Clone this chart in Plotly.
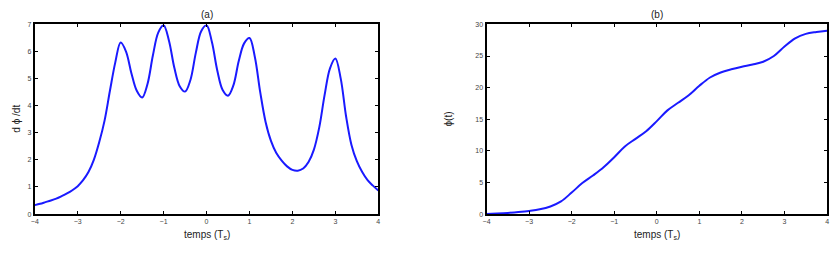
import plotly.graph_objects as go

# Panel (a): d phi / dt
t_a = [-4.0, -3.875, -3.75, -3.625, -3.5, -3.375, -3.25, -3.125, -3.0, -2.875, -2.75, -2.625,
       -2.5, -2.375, -2.25, -2.125, -2.0, -1.875, -1.75, -1.625, -1.5, -1.375, -1.25, -1.125,
       -1.0, -0.875, -0.75, -0.625, -0.5, -0.375, -0.25, -0.125, 0.0, 0.125, 0.25, 0.375,
       0.5, 0.625, 0.75, 0.875, 1.0, 1.125, 1.25, 1.375, 1.5, 1.625, 1.75, 1.875,
       2.0, 2.125, 2.25, 2.375, 2.5, 2.625, 2.75, 2.875, 3.0, 3.125, 3.25, 3.375,
       3.5, 3.625, 3.75, 3.875, 4.0]
v_a = [0.33, 0.38, 0.44, 0.50, 0.57, 0.66, 0.76, 0.88, 1.03, 1.25, 1.55, 2.0,
       2.65, 3.45, 4.55, 5.6, 6.33, 6.0, 5.2, 4.55, 4.3, 4.8, 5.85, 6.7,
       6.97, 6.4, 5.4, 4.72, 4.52, 4.95, 5.95, 6.75, 6.97, 6.35, 5.3, 4.58,
       4.37, 4.75, 5.65, 6.3, 6.5, 5.8, 4.5, 3.4, 2.7, 2.25, 1.97, 1.76,
       1.63, 1.6, 1.68, 1.92, 2.38, 3.2, 4.4, 5.38, 5.74, 5.0, 3.6, 2.55,
       1.95, 1.55, 1.25, 1.05, 0.87]

# Panel (b): phi(t)
t_b = [-4.0, -3.75, -3.5, -3.25, -3.0, -2.75, -2.5, -2.25, -2.0, -1.75, -1.5, -1.25,
       -1.0, -0.75, -0.5, -0.25, 0.0, 0.25, 0.5, 0.75, 1.0, 1.25, 1.5, 1.75,
       2.0, 2.25, 2.5, 2.75, 3.0, 3.25, 3.5, 3.75, 4.0]
v_b = [0.0, 0.08, 0.18, 0.32, 0.5, 0.75, 1.2, 2.0, 3.4, 4.9, 6.1, 7.4,
       9.0, 10.7, 11.9, 13.1, 14.7, 16.4, 17.6, 18.8, 20.3, 21.6, 22.4, 22.9,
       23.3, 23.65, 24.1, 25.0, 26.5, 27.8, 28.5, 28.8, 29.0]

x_ticks = [-4, -3, -2, -1, 0, 1, 2, 3, 4]
ya_ticks = [0, 1, 2, 3, 4, 5, 6, 7]
yb_ticks = [0, 5, 10, 15, 20, 25, 30]

W, H = 840, 254
blue = "#1a1aff"

fig = go.Figure()
fig.add_trace(go.Scatter(x=t_a, y=v_a, mode="lines", line=dict(color=blue, width=2, shape="spline", smoothing=1.0),
                         xaxis="x", yaxis="y", showlegend=False, hoverinfo="skip"))
fig.add_trace(go.Scatter(x=t_b, y=v_b, mode="lines", line=dict(color=blue, width=2, shape="spline", smoothing=1.0),
                         xaxis="x2", yaxis="y2", showlegend=False, hoverinfo="skip"))

ydom = [1 - 216 / H, 1 - 21 / H]
axcommon = dict(showline=True, linecolor="black", linewidth=2, mirror="ticks", ticks="inside",
                ticklen=3, tickwidth=1, tickcolor="black", showgrid=False, zeroline=False,
                tickfont=dict(family="Liberation Sans, Arial", size=7, color="#444444"))

fig.update_layout(
    width=W, height=H, margin=dict(l=0, r=0, t=0, b=0),
    paper_bgcolor="white", plot_bgcolor="white",
    xaxis=dict(domain=[31 / W, 377 / W], range=[-4, 4], tickvals=x_ticks, anchor="y", **axcommon),
    yaxis=dict(domain=ydom, range=[0, 7], tickvals=ya_ticks, anchor="x", **axcommon),
    xaxis2=dict(domain=[486 / W, 829 / W], range=[-4, 4], tickvals=x_ticks, anchor="y2", **axcommon),
    yaxis2=dict(domain=ydom, range=[0, 30], tickvals=yb_ticks, anchor="x2", **axcommon),
)

font_lbl = dict(family="Liberation Sans, Arial", size=10, color="#222222")
ann = [
    dict(text="(a)", x=204 / W, y=1 - 11 / H),
    dict(text="(b)", x=658 / W, y=1 - 11 / H),
    dict(text="temps (T<sub>s</sub>)", x=204 / W, y=1 - 238 / H),
    dict(text="temps (T<sub>s</sub>)", x=658 / W, y=1 - 238 / H),
    dict(text="d ϕ /dt", x=13 / W, y=1 - 118 / H, textangle=-90),
    dict(text="ϕ(t)", x=448 / W, y=1 - 118 / H, textangle=-90),
]
for a in ann:
    fig.add_annotation(xref="paper", yref="paper", showarrow=False, xanchor="center", yanchor="middle",
                       font=font_lbl, **a)

fig.write_html("out.html")
